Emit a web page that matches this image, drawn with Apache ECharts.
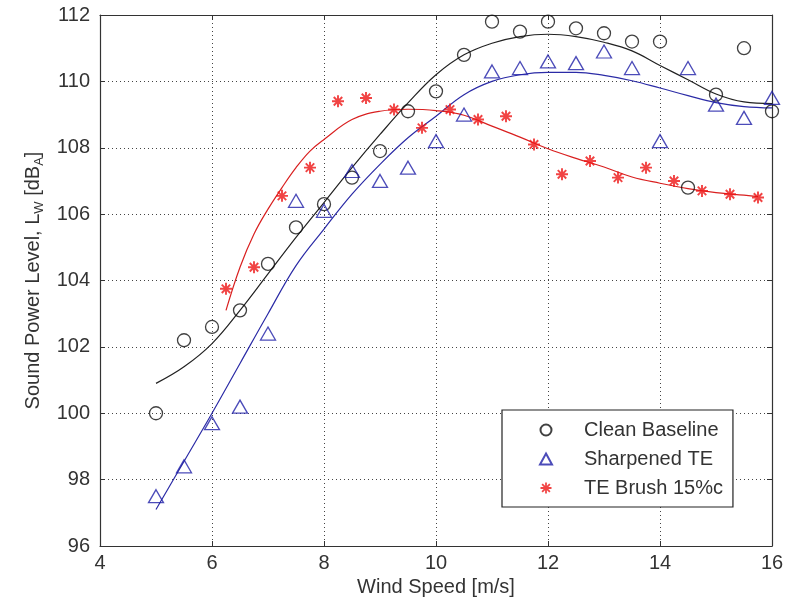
<!DOCTYPE html>
<html>
<head>
<meta charset="utf-8">
<script src="https://cdn.jsdelivr.net/npm/echarts@6/dist/echarts.min.js"></script>
<style>
  html, body { margin: 0; padding: 0; background: #fff; }
  #chart { width: 794px; height: 603px; }
</style>
</head>
<body>
<div id="chart"></div>
<script>
// Measured sound power level versus wind speed, with fitted trend curves
const windSpeed = [5, 5.5, 6, 6.5, 7, 7.5, 8, 8.5, 9, 9.5, 10, 10.5, 11, 11.5, 12, 12.5, 13, 13.5, 14, 14.5, 15, 15.5, 16];
const cleanBaseline = [100.0, 102.2, 102.6, 103.1, 104.5, 105.6, 106.3, 107.1, 107.9, 109.1, 109.7, 110.8, 111.8, 111.5, 111.8, 111.6, 111.45, 111.2, 111.2, 106.8, 109.6, 111.0, 109.1];
const sharpenedTE = [97.5, 98.4, 99.7, 100.2, 102.4, 106.4, 106.1, 107.3, 107.0, 107.4, 108.2, 109.0, 110.3, 110.4, 110.6, 110.55, 110.9, 110.4, 108.2, 110.4, 109.3, 108.9, 109.5];

const brushSpeed = [6.25, 6.75, 7.25, 7.75, 8.25, 8.75, 9.25, 9.75, 10.25, 10.75, 11.25, 11.75, 12.25, 12.75, 13.25, 13.75, 14.25, 14.75, 15.25, 15.75];
const teBrush = [103.75, 104.4, 106.55, 107.4, 109.4, 109.5, 109.15, 108.6, 109.15, 108.85, 108.95, 108.1, 107.2, 107.6, 107.1, 107.4, 107.0, 106.7, 106.6, 106.5];

// Fitted trend curves
const fitSpeed = [5, 5.5, 6, 6.5, 7, 7.5, 8, 8.5, 9, 9.5, 10, 10.5, 11, 11.5, 12, 12.5, 13, 13.5, 14, 14.5, 15, 15.5, 16];
const cleanFit = [100.9, 101.4, 102.1, 103.1, 104.2, 105.3, 106.35, 107.4, 108.4, 109.35, 110.2, 110.8, 111.15, 111.35, 111.42, 111.35, 111.18, 110.92, 110.48, 110.05, 109.62, 109.38, 109.33];
const sharpFit = [97.1, 98.55, 100.0, 101.5, 103.0, 104.45, 105.55, 106.6, 107.5, 108.3, 108.95, 109.6, 110.0, 110.2, 110.27, 110.27, 110.18, 110.02, 109.8, 109.57, 109.36, 109.24, 109.2];
const brushFitSpeed = [6.25, 6.5, 6.75, 7, 7.25, 7.5, 7.75, 8, 8.5, 9, 9.5, 10, 10.5, 11, 11.5, 12, 12.5, 13, 13.5, 14, 14.5, 15, 15.5, 15.75];
const brushFit = [103.1, 104.4, 105.4, 106.15, 106.8, 107.4, 107.9, 108.25, 108.85, 109.1, 109.16, 109.12, 108.98, 108.65, 108.32, 107.97, 107.68, 107.42, 107.12, 106.93, 106.77, 106.65, 106.57, 106.53];

const seriesNames = ['Clean Baseline', 'Sharpened TE', 'TE Brush 15%c'];
const xTicks = { min: 4, max: 16, interval: 2 };
const yTicks = { min: 96, max: 112, interval: 2 };

const zip = (xs, ys) => xs.map((x, i) => [x, ys[i]]);

// asterisk marker built from four bars and a centre square
const asterisk = 'path://M-1.6,-10L1.6,-10L1.6,10L-1.6,10Z' +
  'M-10,-1.6L10,-1.6L10,1.6L-10,1.6Z' +
  'M-8.2,-5.9L-5.9,-8.2L8.2,5.9L5.9,8.2Z' +
  'M5.9,-8.2L8.2,-5.9L-5.9,8.2L-8.2,5.9Z' +
  'M-4,-4L4,-4L4,4L-4,4Z';

const FONT = 'Liberation Sans, Arial, sans-serif';
const AXIS_COLOR = '#333';
const TEXT_COLOR = '#333';

const gridLine = { show: true, lineStyle: { color: '#444', width: 1, type: [1, 3] } };

const chart = echarts.init(document.getElementById('chart'), null, { renderer: 'canvas' });

chart.setOption({
  backgroundColor: '#fff',
  animation: false,
  grid: { left: 100, right: 22, top: 15, bottom: 57 },
  legend: {
    data: seriesNames,
    orient: 'vertical',
    align: 'left',
    left: 502,
    top: 410,
    itemWidth: 12,
    itemHeight: 11,
    itemGap: 9,
    padding: [10, 10, 9, 37],
    borderColor: '#222',
    borderWidth: 1.2,
    borderRadius: 0,
    backgroundColor: '#fff',
    textStyle: { fontFamily: FONT, fontSize: 20, color: TEXT_COLOR, lineHeight: 18, padding: [0, 0, 0, 27] }
  },
  xAxis: [{
    type: 'value',
    min: xTicks.min, max: xTicks.max, interval: xTicks.interval,
    name: 'Wind Speed [m/s]',
    nameLocation: 'middle',
    nameGap: 30,
    nameTextStyle: { fontFamily: FONT, fontSize: 20, color: TEXT_COLOR },
    axisLine: { show: true, lineStyle: { color: AXIS_COLOR, width: 1.2 } },
    axisTick: { show: true, inside: true, length: 5, lineStyle: { color: AXIS_COLOR } },
    axisLabel: { fontFamily: FONT, fontSize: 20, color: TEXT_COLOR, margin: 7 },
    splitLine: gridLine
  }, {
    type: 'value', position: 'top',
    min: xTicks.min, max: xTicks.max, interval: xTicks.interval,
    axisLine: { show: true, lineStyle: { color: AXIS_COLOR, width: 1.2 } },
    axisTick: { show: true, inside: true, length: 5, lineStyle: { color: AXIS_COLOR } },
    axisLabel: { show: false },
    splitLine: { show: false }
  }],
  yAxis: [{
    type: 'value',
    min: yTicks.min, max: yTicks.max, interval: yTicks.interval,
    name: 'Sound Power Level, L{sub|W} [dB{sub|A}]',
    nameLocation: 'middle',
    nameGap: 54,
    nameTextStyle: {
      fontFamily: FONT, fontSize: 20, color: TEXT_COLOR, lineHeight: 24,
      rich: { sub: { fontFamily: FONT, fontSize: 13, color: TEXT_COLOR, verticalAlign: 'bottom', lineHeight: 24, padding: [7, 0, 0, 0] } }
    },
    axisLine: { show: true, lineStyle: { color: AXIS_COLOR, width: 1.2 } },
    axisTick: { show: true, inside: true, length: 5, lineStyle: { color: AXIS_COLOR } },
    axisLabel: { fontFamily: FONT, fontSize: 20, color: TEXT_COLOR, margin: 10 },
    splitLine: gridLine
  }, {
    type: 'value', position: 'right',
    min: yTicks.min, max: yTicks.max, interval: yTicks.interval,
    axisLine: { show: true, lineStyle: { color: AXIS_COLOR, width: 1.2 } },
    axisTick: { show: true, inside: true, length: 5, lineStyle: { color: AXIS_COLOR } },
    axisLabel: { show: false },
    splitLine: { show: false }
  }],
  series: [
    {
      name: 'cleanFit', type: 'line', data: zip(fitSpeed, cleanFit),
      smooth: 0.4, showSymbol: false, silent: true,
      lineStyle: { color: '#222', width: 1.2 }, z: 2
    },
    {
      name: 'sharpFit', type: 'line', data: zip(fitSpeed, sharpFit),
      smooth: 0.4, showSymbol: false, silent: true,
      lineStyle: { color: '#2b2ba6', width: 1.2 }, z: 2
    },
    {
      name: 'brushFit', type: 'line', data: zip(brushFitSpeed, brushFit),
      smooth: 0.4, showSymbol: false, silent: true,
      lineStyle: { color: '#d92020', width: 1.2 }, z: 2
    },
    {
      name: seriesNames[0], type: 'scatter', data: zip(windSpeed, cleanBaseline),
      symbol: 'circle', symbolSize: 13,
      itemStyle: { color: 'rgba(255,255,255,0)', borderColor: '#111', borderWidth: 1.3 }, z: 3
    },
    {
      name: seriesNames[1], type: 'scatter', data: zip(windSpeed, sharpenedTE),
      symbol: 'triangle', symbolSize: [15, 13],
      itemStyle: { color: 'rgba(255,255,255,0)', borderColor: '#1f1fa8', borderWidth: 1.3 }, z: 3
    },
    {
      name: seriesNames[2], type: 'scatter', data: zip(brushSpeed, teBrush),
      symbol: asterisk, symbolSize: 12,
      itemStyle: { color: '#ee1515', borderWidth: 0 }, z: 4
    }
  ]
});
</script>
</body>
</html>
